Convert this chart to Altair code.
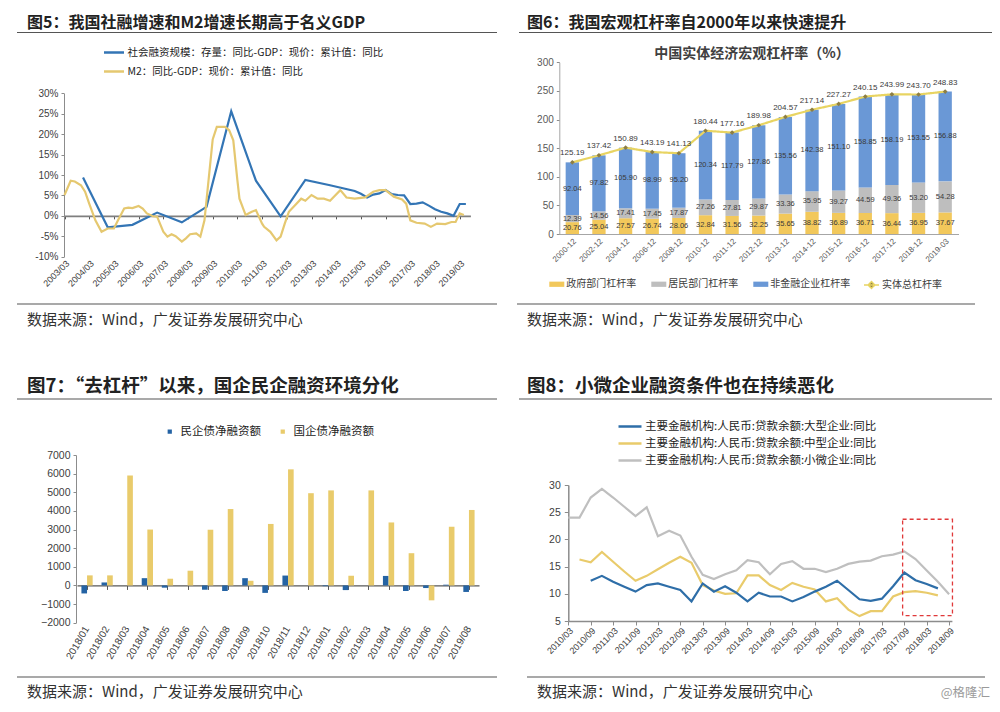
import altair as alt
import pandas as pd

W, H = 984, 694


def px(v):
    return v - 8


def lin(v, dom, rng):
    return rng[0] + (v - dom[0]) / (dom[1] - dom[0]) * (rng[1] - rng[0])


SANS = "Liberation Sans, Noto Sans CJK SC, sans-serif"
CJK = "Noto Sans CJK SC, sans-serif"

# ---------------- Figure 5 data ----------------
TSF_NAME = "社会融资规模：存量：同比-GDP：现价：累计值：同比"
M2_NAME = "M2：同比-GDP：现价：累计值：同比"
tsf_dates = ["2003/12", "2004/12", "2005/12", "2006/12", "2007/12", "2008/12", "2009/12",
             "2010/12", "2011/12", "2012/12", "2013/12", "2014/12", "2015/03", "2015/06",
             "2015/09", "2015/12", "2016/03", "2016/06", "2016/09", "2016/12", "2017/03",
             "2017/06", "2017/09", "2017/12", "2018/03", "2018/06", "2018/09", "2018/12",
             "2019/03", "2019/06"]
tsf_vals = [9.4, -2.8, -2.2, 0.8, -1.6, 2.2, 25.6, 8.6, -0.1, 8.8, 7.5, 6.1, 5.4, 4.5,
            5.2, 5.5, 6.3, 5.3, 5.1, 5.0, 2.9, 3.0, 3.3, 2.5, 1.6, 1.0, 0.6, 0.0, 2.9, 2.9]
m2_dates = ["2003/03", "2003/06", "2003/08", "2003/11", "2004/01", "2004/03", "2004/06",
            "2004/09", "2004/12", "2005/03", "2005/05", "2005/08", "2005/10", "2005/12",
            "2006/03", "2006/05", "2006/07", "2006/10", "2006/12", "2007/03", "2007/05",
            "2007/07", "2007/09", "2007/12", "2008/02", "2008/04", "2008/07", "2008/09",
            "2008/11", "2009/03", "2009/05", "2009/09", "2009/11", "2010/01", "2010/03",
            "2010/04", "2010/07", "2010/10", "2010/12", "2011/03", "2011/04", "2011/07",
            "2011/10", "2011/12", "2012/02", "2012/04", "2012/07", "2012/10", "2012/12",
            "2013/03", "2013/06", "2013/09", "2013/12", "2014/05", "2014/08", "2014/12",
            "2015/05", "2015/09", "2015/12", "2016/03", "2016/07", "2016/11", "2017/01",
            "2017/03", "2017/06", "2017/10", "2018/01", "2018/04", "2018/08", "2018/11",
            "2019/01", "2019/03", "2019/05"]
m2_vals = [5.1, 8.6, 8.4, 7.5, 5.9, 3.0, -1.1, -3.9, -3.1, -3.1, -1.1, 1.8, 2.0, 1.9,
           2.4, 1.8, 0.6, -0.1, -0.2, -3.9, -5.1, -4.5, -5.0, -6.3, -5.5, -4.5, -4.3, -5.1,
           -1.1, 18.7, 21.8, 21.8, 21.0, 18.5, 8.7, 4.2, 0.2, 1.0, 1.4, -1.9, -2.7, -3.9,
           -6.0, -5.1, -1.9, 1.0, 2.6, 4.2, 3.7, 5.1, 4.2, 4.2, 3.7, 6.3, 4.5, 4.2,
           4.5, 5.9, 6.3, 6.3, 4.7, 4.0, 3.0, -1.1, -1.7, -1.9, -2.7, -1.9, -2.0, -1.5,
           -1.5, 0.6, 0.2]

# ---------------- Figure 6 data ----------------
f6_years = ["2000-12", "2002-12", "2004-12", "2006-12", "2008-12", "2010-12", "2011-12",
            "2012-12", "2013-12", "2014-12", "2015-12", "2016-12", "2017-12", "2018-12",
            "2019-03"]
f6_gov = [20.76, 25.04, 27.57, 26.74, 28.06, 32.84, 31.56, 32.25, 35.65, 38.82, 36.89,
          36.71, 36.44, 36.95, 37.67]
f6_house = [12.39, 14.56, 17.41, 17.45, 17.87, 27.26, 27.81, 29.87, 33.36, 35.95, 39.27,
            44.59, 49.36, 53.20, 54.28]
f6_corp = [92.04, 97.82, 105.90, 98.99, 95.20, 120.34, 117.79, 127.86, 135.56, 142.38,
           151.10, 158.85, 158.19, 153.55, 156.88]
f6_total = [125.19, 137.42, 150.89, 143.19, 141.13, 180.44, 177.16, 189.98, 204.57, 217.14,
            227.27, 240.15, 243.99, 243.70, 248.83]
S_GOV, S_HOUSE, S_CORP, S_TOT = "政府部门杠杆率", "居民部门杠杆率", "非金融企业杠杆率", "实体总杠杆率"

# ---------------- Figure 7 data ----------------
f7_months = ["2018/01", "2018/02", "2018/03", "2018/04", "2018/05", "2018/06", "2018/07",
             "2018/08", "2018/09", "2018/10", "2018/11", "2018/12", "2019/01", "2019/02",
             "2019/03", "2019/04", "2019/05", "2019/06", "2019/07", "2019/08"]
f7_private = [-430, 160, 0, 390, -120, 0, -230, -300, 390, -400, 530, 0, -40, -250, 0, 510,
              -300, -140, 40, -350]
f7_soe = [540, 540, 5900, 3000, 360, 790, 2990, 4100, 250, 3300, 6230, 4950, 5100, 520,
          5100, 3380, 1730, -800, 3150, 4050]
S_PRIV, S_SOE = "民企债净融资额", "国企债净融资额"

# ---------------- Figure 8 data ----------------
f8_quarters = ["2010/03", "2010/06", "2010/09", "2010/12", "2011/03", "2011/06", "2011/09",
               "2011/12", "2012/03", "2012/06", "2012/09", "2012/12", "2013/03", "2013/06",
               "2013/09", "2013/12", "2014/03", "2014/06", "2014/09", "2014/12", "2015/03",
               "2015/06", "2015/09", "2015/12", "2016/03", "2016/06", "2016/09", "2016/12",
               "2017/03", "2017/06", "2017/09", "2017/12", "2018/03", "2018/06", "2018/09"]
f8_large = [None, None, 12.4, 13.3, 12.2, 11.3, 10.4, 11.6, 11.9, 11.3, 10.7, 8.6, 11.9,
            10.4, 11.4, 10.2, 8.6, 10.2, 9.5, 9.5, 8.6, 9.4, 10.4, 11.3, 12.4, 10.7, 9.0,
            8.7, 9.1, 11.4, 13.9, 12.5, 11.8, 11.0, None]
f8_medium = [None, 16.3, 15.8, 17.7, 15.9, 14.1, 12.4, 13.3, 14.5, 15.7, 16.8, 15.7, 11.6,
             10.6, 10.0, 10.1, 13.4, 13.4, 11.6, 10.7, 12.0, 11.3, 10.8, 8.6, 9.2, 7.1, 5.9,
             6.8, 6.8, 9.5, 10.3, 10.5, 10.2, 9.7, None]
f8_small = [24.0, 24.0, 27.7, 29.3, 27.7, 26.0, 24.3, 25.9, 20.6, 21.6, 20.7, 16.8, 13.5,
            12.7, 13.6, 14.3, 16.2, 15.8, 13.6, 15.5, 16.0, 14.6, 14.6, 14.0, 14.6, 15.5,
            15.9, 16.1, 16.9, 17.2, 17.8, 16.4, 14.3, 12.2, 9.9]
S_LARGE = "主要金融机构:人民币:贷款余额:大型企业:同比"
S_MED = "主要金融机构:人民币:贷款余额:中型企业:同比"
S_SMALL = "主要金融机构:人民币:贷款余额:小微企业:同比"
box_quarters = [29.85, 34.3]
box_values = [6.0, 23.7]

# ---------------- common text ----------------
SOURCE = "数据来源：Wind，广发证券发展研究中心"
T5 = "图5：我国社融增速和M2增速长期高于名义GDP"
T6 = "图6：我国宏观杠杆率自2000年以来快速提升"
T7 = "图7：“去杠杆”以来，国企民企融资环境分化"
T8 = "图8：小微企业融资条件也在持续恶化"
T6_INNER = "中国实体经济宏观杠杆率（%）"

AXC = "#404040"
DOM = "#8c8c8c"
ONE = [{}]


def text(s, x, y, size, weight="normal", color="#222222", align="left", font=CJK):
    return alt.Chart(alt.Data(values=ONE)).mark_text(
        align=align, baseline="middle", fontSize=size, fontWeight=weight,
        color=color, font=font
    ).encode(x=alt.value(px(x)), y=alt.value(px(y)), text=alt.value(s))


def hrule(x1, x2, y, color="#555555", width=1.2):
    return alt.Chart(alt.Data(values=ONE)).mark_rule(color=color, strokeWidth=width).encode(
        x=alt.value(px(x1)), x2=alt.value(px(x2)), y=alt.value(px(y)))


def dec(s):
    y, m = s.split("/")
    return int(y) + (int(m) - 1) / 12


# ================= Figure 5 =================
X5 = [2003 + 2 / 12, 2019.6]
X5R = [px(64.5), px(64.5 + (X5[1] - X5[0]) * 24.7)]
Y5 = [-10, 30]
Y5R = [px(256.7), px(93.3)]
x5 = alt.Scale(domain=X5, range=X5R, nice=False, zero=False)
y5 = alt.Scale(domain=Y5, range=Y5R, nice=False, zero=False)
ticks5 = [X5[0] + i for i in range(17)]

df5 = pd.DataFrame({
    "t": [dec(d) for d in tsf_dates] + [dec(d) for d in m2_dates],
    "v": tsf_vals + m2_vals,
    "s": [TSF_NAME] * len(tsf_vals) + [M2_NAME] * len(m2_vals),
})

fig5_lines = alt.Chart(df5).mark_line(strokeWidth=2.2).encode(
    x=alt.X("t:Q", scale=x5, title=None, axis=alt.Axis(
        orient="bottom", offset=Y5R[0] - H, values=ticks5,
        labelExpr="floor(datum.value) + '/03'", labelAngle=-45, labelAlign="right",
        labelBaseline="top", labelFontSize=9, labelPadding=2, labelOverlap=False,
        domain=False, ticks=False, tickSize=0, grid=False)),
    y=alt.Y("v:Q", scale=y5, title=None, axis=alt.Axis(
        orient="left", offset=-px(64), values=list(range(-10, 31, 5)),
        labelExpr="datum.value + '%'", labelFontSize=10, tickSize=3, labelPadding=3,
        grid=False)),
    color=alt.Color("s:N", title=None, scale=alt.Scale(
        domain=[TSF_NAME, M2_NAME], range=["#3375B5", "#E5C870"]),
        legend=alt.Legend(orient="none", legendX=px(102.5), legendY=px(41),
                          direction="vertical", symbolType="stroke", symbolSize=400,
                          symbolStrokeWidth=2.5, labelFontSize=10.5, labelOffset=2,
                          rowPadding=2, labelLimit=400, labelFont=CJK,
                          labelColor="#222222")),
)

y0_5 = lin(0, Y5, Y5R)
fig5_zero = alt.Chart(pd.DataFrame({"t": X5})).mark_point(opacity=0).encode(
    x=alt.X("t:Q", scale=x5, title=None, axis=alt.Axis(
        orient="bottom", offset=y0_5 - H, values=ticks5, labels=False,
        domainColor="#7f7f7f", domainWidth=1.6, tickColor="#555555", tickSize=3,
        grid=False)),
)

# ================= Figure 6 =================
x6 = alt.Scale(domain=f6_years, range=[px(559), px(958.5)], paddingInner=0.5,
               paddingOuter=0.25)
Y6R = [px(234), px(62.3)]
y6 = alt.Scale(domain=[0, 300], range=Y6R, nice=False, zero=False)

rows = []
for i, c in enumerate(f6_years):
    base = 0
    for k, (name, arr) in enumerate([(S_GOV, f6_gov), (S_HOUSE, f6_house), (S_CORP, f6_corp)]):
        v = arr[i]
        rows.append({"c": c, "s": name, "v": v, "k": k, "mid": base + v / 2})
        base += v
df6 = pd.DataFrame(rows)
df6t = pd.DataFrame({"c": f6_years, "t": f6_total, "n": [S_TOT] * len(f6_years)})

x6_enc = alt.X("c:N", scale=x6, title=None, axis=alt.Axis(
    orient="bottom", offset=Y6R[0] - H, labelAngle=-45, labelAlign="right",
    labelBaseline="top", labelFontSize=8, labelPadding=3, labelOverlap=False, ticks=False,
    tickSize=0, domainColor="#a6a6a6", labelColor="#595959", grid=False))

fig6_bars = alt.Chart(df6).mark_bar().encode(
    x=x6_enc,
    y=alt.Y("v:Q", scale=y6, stack="zero", title=None, axis=alt.Axis(
        orient="left", offset=-px(559.3), values=list(range(0, 301, 50)),
        labelFontSize=10, tickSize=3, labelPadding=3, labelColor="#595959",
        domainColor="#a6a6a6", grid=False)),
    color=alt.Color("s:N", title=None, scale=alt.Scale(
        domain=[S_GOV, S_HOUSE, S_CORP], range=["#F2C85B", "#BEBEBE", "#6A98D6"]),
        legend=alt.Legend(orient="none", legendX=px(549.3), legendY=px(276.5),
                          direction="horizontal", symbolType="M-1,-0.35H1V0.35H-1Z",
                          symbolSize=225, symbolStrokeWidth=0, labelFontSize=10,
                          labelOffset=2, columnPadding=15, labelFont=CJK,
                          labelColor="#404040")),
    order=alt.Order("k:Q"),
)
fig6_labels = alt.Chart(df6).mark_text(fontSize=7.5, color="#3a3a3a", font=SANS).encode(
    x=alt.X("c:N", scale=x6, title=None),
    y=alt.Y("mid:Q", scale=y6, title=None),
    text=alt.Text("v:Q", format=".2f"),
)
fig6_line = alt.Chart(df6t).mark_line(color="#E8D462", strokeWidth=2.2).encode(
    x=alt.X("c:N", scale=x6, title=None),
    y=alt.Y("t:Q", scale=y6, title=None),
    strokeDash=alt.StrokeDash("n:N", title=None, scale=alt.Scale(domain=[S_TOT], range=[[1, 0]]),
                              legend=alt.Legend(orient="none", legendX=px(863),
                                                legendY=px(276.5),
                                                symbolType="M-1,0H1M0,-0.45L0.45,0L0,0.45L-0.45,0Z",
                                                symbolSize=225, symbolStrokeColor="#E8D462",
                                                symbolFillColor="#8C7E45",
                                                symbolStrokeWidth=1.5, labelFontSize=10,
                                                labelOffset=2, labelFont=CJK,
                                                labelColor="#404040")),
)
fig6_pts = alt.Chart(df6t).mark_point(shape="diamond", filled=True, size=22,
                                      color="#8C7E45", opacity=1).encode(
    x=alt.X("c:N", scale=x6, title=None),
    y=alt.Y("t:Q", scale=y6, title=None),
)
fig6_tlab = alt.Chart(df6t).mark_text(fontSize=8, dy=-9, color="#3a3a3a", font=SANS).encode(
    x=alt.X("c:N", scale=x6, title=None),
    y=alt.Y("t:Q", scale=y6, title=None),
    text=alt.Text("t:Q", format=".2f"),
)
fig6 = alt.layer(fig6_bars, fig6_labels, fig6_line, fig6_pts, fig6_tlab)

# ================= Figure 7 =================
X7R = [px(77), px(479)]
x7 = alt.Scale(domain=f7_months, range=X7R, paddingInner=0.44, paddingOuter=0.22)
Y7 = [-2000, 7000]
Y7R = [px(622.7), px(455)]
y7 = alt.Scale(domain=Y7, range=Y7R, nice=False, zero=False)
df7 = pd.DataFrame({
    "m": f7_months * 2,
    "s": [S_PRIV] * len(f7_months) + [S_SOE] * len(f7_months),
    "v": f7_private + f7_soe,
})
fig7_bars = alt.Chart(df7).mark_bar().encode(
    x=alt.X("m:N", scale=x7, title=None, axis=alt.Axis(
        orient="bottom", offset=Y7R[0] - H, labelAngle=-60, labelAlign="right",
        labelBaseline="middle", labelFontSize=10, labelPadding=4, labelOverlap=False,
        domain=False, ticks=False, tickSize=0, grid=False)),
    xOffset=alt.XOffset("s:N", scale=alt.Scale(domain=[S_PRIV, S_SOE])),
    y=alt.Y("v:Q", scale=y7, stack=False, title=None, axis=alt.Axis(
        orient="left", offset=-px(76), values=list(range(-2000, 7001, 1000)),
        format="d", labelFontSize=10.5, tickSize=3, labelPadding=3, grid=False)),
    color=alt.Color("s:N", title=None, scale=alt.Scale(
        domain=[S_PRIV, S_SOE], range=["#2463A4", "#E9CB6B"]),
        legend=alt.Legend(orient="none", legendX=px(164), legendY=px(425.5),
                          direction="horizontal", symbolType="square", symbolSize=18,
                          symbolStrokeWidth=0, labelFontSize=11.5, labelOffset=5,
                          columnPadding=16, labelFont=CJK, labelColor="#222222")),
)
x7z = alt.Scale(domain=f7_months, range=X7R, paddingInner=0, paddingOuter=0)
y0_7 = lin(0, Y7, Y7R)
fig7_zero = alt.Chart(pd.DataFrame({"m": f7_months})).mark_point(opacity=0).encode(
    x=alt.X("m:N", scale=x7z, title=None, axis=alt.Axis(
        orient="bottom", offset=y0_7 - H, labels=False, bandPosition=0,
        domainColor="#595959", domainWidth=1.3, tickColor="#595959", tickSize=4,
        grid=False)),
)

# ================= Figure 8 =================
def qidx(s):
    y, m = s.split("/")
    return (int(y) - 2010) * 4 + (int(m) - 3) / 3


X8 = [0, 34.25]
X8R = [px(568.3), px(568.3 + 34.25 * 11.2)]
Y8 = [5, 30]
Y8R = [px(621), px(485)]
x8 = alt.Scale(domain=X8, range=X8R, nice=False, zero=False)
y8 = alt.Scale(domain=Y8, range=Y8R, nice=False, zero=False)
r8 = []
for name, arr in [(S_SMALL, f8_small), (S_MED, f8_medium), (S_LARGE, f8_large)]:
    for d, v in zip(f8_quarters, arr):
        if v is not None:
            r8.append({"q": qidx(d), "v": v, "s": name})
df8 = pd.DataFrame(r8)
fig8_lines = alt.Chart(df8).mark_line(strokeWidth=2.2).encode(
    x=alt.X("q:Q", scale=x8, title=None, axis=alt.Axis(
        orient="bottom", offset=Y8R[0] - H, values=list(range(0, 35, 2)),
        labelExpr="(2010 + floor(datum.value / 4)) + (datum.value % 4 == 0 ? '/03' : '/09')",
        labelAngle=-45, labelAlign="right", labelBaseline="top", labelFontSize=9,
        labelPadding=1, labelOverlap=False, tickSize=4, domainWidth=1.5, grid=False)),
    y=alt.Y("v:Q", scale=y8, title=None, axis=alt.Axis(
        orient="left", offset=-px(568.3), values=list(range(5, 31, 5)),
        labelFontSize=10.5, tickSize=4, labelPadding=4, domainWidth=1.5, grid=False)),
    color=alt.Color("s:N", title=None, scale=alt.Scale(
        domain=[S_LARGE, S_MED, S_SMALL], range=["#2E6EA8", "#E9CB6B", "#BFBFBF"]),
        legend=alt.Legend(orient="none", legendX=px(618.5), legendY=px(415),
                          direction="vertical", symbolType="M-1.15,0H1.15",
                          symbolSize=400, symbolStrokeWidth=2.5, labelFontSize=11.5,
                          labelOffset=3.5, rowPadding=0, labelLimit=400, labelFont=CJK,
                          labelColor="#222222")),
)
df8box = pd.DataFrame({"q1": [box_quarters[0]], "q2": [box_quarters[1]],
                       "v1": [box_values[0]], "v2": [box_values[1]]})
fig8_box = alt.Chart(df8box).mark_rect(fillOpacity=0, stroke="#E0393A", strokeWidth=1.3,
                                       strokeDash=[4, 3]).encode(
    x=alt.X("q1:Q", scale=x8, title=None), x2="q2:Q",
    y=alt.Y("v1:Q", scale=y8, title=None), y2="v2:Q",
)
fig8 = alt.layer(fig8_lines, fig8_box)

# ================= decorations =================
decor = [
    text(T5, 27, 22.5, 16, "bold"), text(T6, 527, 22.5, 16, "bold"),
    text(T7, 27, 386, 18.5, "bold"), text(T8, 527, 386, 18.5, "bold"),
    hrule(17, 497, 32.5), hrule(519, 992, 32.5),
    hrule(17, 497, 399), hrule(519, 992, 399),
    hrule(17, 497, 304), hrule(517, 975, 304),
    hrule(17, 497, 677), hrule(527, 985, 677),
    text(SOURCE, 27, 320, 15, color="#333333"), text(SOURCE, 527, 320, 15, color="#333333"),
    text(SOURCE, 27, 692, 15, color="#333333"), text(SOURCE, 537, 692, 15, color="#333333"),
    text("@格隆汇", 990, 693, 12.5, color="#9a9a9a", align="right"),
    text(T6_INNER, 752, 54, 14, "bold", color="#404040", align="center"),
]

chart = alt.layer(
    fig5_lines, fig5_zero, fig6, fig7_bars, fig7_zero, fig8, *decor
).resolve_scale(
    x="independent", y="independent", color="independent", strokeDash="independent"
).resolve_axis(
    x="independent", y="independent"
).resolve_legend(
    color="independent", strokeDash="independent"
).properties(
    width=W, height=H, padding=0, autosize=alt.AutoSizeParams(type="none")
).configure_view(
    strokeWidth=0
).configure_axis(
    labelFont=SANS, labelColor=AXC, domainColor=DOM, tickColor=DOM, grid=False
).configure_legend(
    labelFont=CJK
)

chart.save("out.html", embed_options={"renderer": "svg", "actions": False})
